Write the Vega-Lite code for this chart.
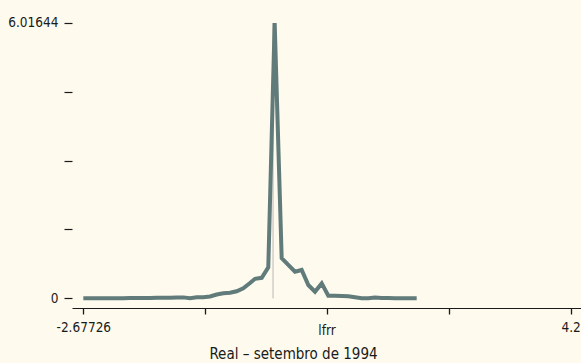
{
  "$schema": "https://vega.github.io/schema/vega-lite/v6.json",
  "width": 509,
  "height": 298,
  "autosize": {"type": "none"},
  "padding": {"left": 72, "top": 10, "right": 0, "bottom": 55},
  "background": "#fefaee",
  "config": {
    "view": {"stroke": null},
    "font": "DejaVu Sans Condensed, sans-serif",
    "axis": {"labelFont": "DejaVu Sans Condensed, sans-serif", "titleFont": "DejaVu Sans Condensed, sans-serif"}
  },
  "title": {
    "text": "Real – setembro de 1994",
    "orient": "bottom",
    "anchor": "middle",
    "frame": "group",
    "dx": -33,
    "offset": 10,
    "fontSize": 15,
    "fontWeight": "normal",
    "color": "#1a1a1a",
    "font": "DejaVu Sans Condensed, sans-serif"
  },
  "datasets": {
    "density": [
      {"lfrr": -2.677, "d": 0.002},
      {"lfrr": -2.583, "d": 0.001},
      {"lfrr": -2.488, "d": 0.001},
      {"lfrr": -2.395, "d": 0.001},
      {"lfrr": -2.301, "d": 0.001},
      {"lfrr": -2.206, "d": 0.002},
      {"lfrr": -2.113, "d": 0.003},
      {"lfrr": -2.018, "d": 0.004},
      {"lfrr": -1.924, "d": 0.005},
      {"lfrr": -1.831, "d": 0.006},
      {"lfrr": -1.736, "d": 0.008},
      {"lfrr": -1.642, "d": 0.010},
      {"lfrr": -1.548, "d": 0.012},
      {"lfrr": -1.454, "d": 0.014},
      {"lfrr": -1.359, "d": 0.016},
      {"lfrr": -1.266, "d": 0.020},
      {"lfrr": -1.172, "d": 0.004},
      {"lfrr": -1.077, "d": 0.022},
      {"lfrr": -0.984, "d": 0.024},
      {"lfrr": -0.889, "d": 0.039},
      {"lfrr": -0.795, "d": 0.083},
      {"lfrr": -0.702, "d": 0.111},
      {"lfrr": -0.607, "d": 0.120},
      {"lfrr": -0.513, "d": 0.153},
      {"lfrr": -0.420, "d": 0.219},
      {"lfrr": -0.325, "d": 0.334},
      {"lfrr": -0.254, "d": 0.426},
      {"lfrr": -0.160, "d": 0.448},
      {"lfrr": -0.067, "d": 0.676},
      {"lfrr": 0.023, "d": 6.01644},
      {"lfrr": 0.122, "d": 0.876},
      {"lfrr": 0.215, "d": 0.729},
      {"lfrr": 0.310, "d": 0.582},
      {"lfrr": 0.404, "d": 0.619},
      {"lfrr": 0.498, "d": 0.290},
      {"lfrr": 0.592, "d": 0.144},
      {"lfrr": 0.687, "d": 0.326},
      {"lfrr": 0.780, "d": 0.057},
      {"lfrr": 0.874, "d": 0.055},
      {"lfrr": 0.969, "d": 0.050},
      {"lfrr": 1.062, "d": 0.044},
      {"lfrr": 1.157, "d": 0.022},
      {"lfrr": 1.251, "d": 0.001},
      {"lfrr": 1.344, "d": 0.002},
      {"lfrr": 1.439, "d": 0.017},
      {"lfrr": 1.533, "d": 0.004},
      {"lfrr": 1.626, "d": 0.004},
      {"lfrr": 1.721, "d": 0.002},
      {"lfrr": 1.816, "d": 0.002},
      {"lfrr": 1.909, "d": 0.002},
      {"lfrr": 2.027, "d": 0.002}
    ],
    "refline": [{"lfrr": 0, "lo": 0, "hi": 6.01644}]
  },
  "layer": [
    {
      "data": {"name": "refline"},
      "mark": {"type": "rule", "color": "#b8b8b4", "strokeWidth": 1},
      "encoding": {
        "x": {"field": "lfrr", "type": "quantitative", "scale": {"domain": [-2.8367, 4.3455], "nice": false, "zero": false}},
        "y": {"field": "lo", "type": "quantitative", "scale": {"domain": [-0.212, 6.3], "nice": false, "zero": false}},
        "y2": {"field": "hi"}
      }
    },
    {
      "data": {"name": "density"},
      "mark": {"type": "line", "color": "#617a7a", "strokeWidth": 4, "interpolate": "linear"},
      "encoding": {
        "x": {
          "field": "lfrr",
          "type": "quantitative",
          "scale": {"domain": [-2.8367, 4.3455], "nice": false, "zero": false},
          "axis": {
            "title": "lfrr",
            "values": [-2.67726, -0.958, 0.76137, 2.48, 4.2],
            "labelExpr": "datum.value < -2 ? '-2.67726' : (datum.value > 4 ? '4.2' : '')",
            "labelFlush": false,
            "labelOverlap": false,
            "labelBound": false,
            "labelFontSize": 13.5,
            "labelColor": "#1a1a1a",
            "labelPadding": 6,
            "tickSize": 6,
            "tickWidth": 1.3,
            "tickColor": "#1a1a1a",
            "domainColor": "#1a1a1a",
            "domainWidth": 1.2,
            "grid": false,
            "titleFontSize": 13.5,
            "titleFontWeight": "normal",
            "titleColor": "#1a1a1a",
            "titleBaseline": "alphabetic",
            "titleY": 26
          }
        },
        "y": {
          "field": "d",
          "type": "quantitative",
          "scale": {"domain": [-0.212, 6.3], "nice": false, "zero": false},
          "axis": {
            "title": null,
            "values": [0, 1.50411, 3.00822, 4.51233, 6.01644],
            "labelExpr": "datum.value == 0 ? '0' : (datum.value > 6 ? '6.01644' : '')",
            "domain": false,
            "grid": false,
            "tickSize": 8,
            "tickWidth": 1.2,
            "tickColor": "#1a1a1a",
            "labelFontSize": 13.5,
            "labelColor": "#1a1a1a",
            "labelPadding": 6,
            "labelOverlap": false,
            "labelBound": false,
            "labelFlush": false
          }
        }
      }
    }
  ]
}
